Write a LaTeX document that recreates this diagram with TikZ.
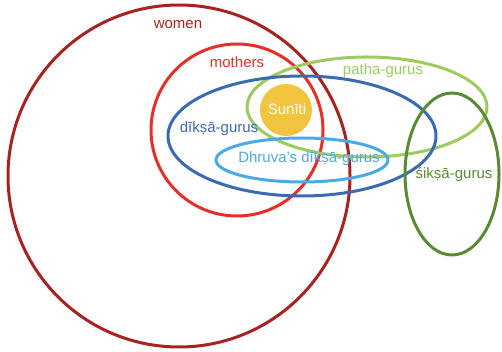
\documentclass[tikz,border=0pt]{standalone}
\usepackage{fontspec}
\setmainfont{Liberation Sans}
\definecolor{womenc}{HTML}{A8231F}
\definecolor{motherc}{HTML}{E5302A}
\definecolor{diksac}{HTML}{3A6BB0}
\definecolor{pathac}{HTML}{9CCB5E}
\definecolor{dhruvac}{HTML}{4AAAE6}
\definecolor{siksac}{HTML}{5B8A34}
\definecolor{sunitic}{HTML}{F2C440}
\begin{document}
\begin{tikzpicture}[x=1pt,y=-1pt,
  ring/.style={line width=3pt},
  lbl/.style={font=\fontsize{15}{17}\selectfont, inner sep=0pt}]
\useasboundingbox (0,0) rectangle (502,352);
% sets
\draw[ring, womenc] (179,176) circle[radius=171];
\draw[ring, motherc] (237,130) circle[radius=86];
\draw[ring, pathac] (367,107) ellipse[x radius=120, y radius=50];
\draw[ring, diksac] (302,136) ellipse[x radius=134, y radius=60];
\draw[ring, dhruvac] (302,160) ellipse[x radius=86, y radius=22];
\draw[ring, siksac] (452,174) ellipse[x radius=47, y radius=81];
\fill[sunitic] (286,110) circle[radius=26];
% labels
\node[lbl, text=womenc] (women) at (178,25) {women};
\node[lbl, text=motherc] (mothers) at (237,62) {mothers};
\node[lbl, text=pathac] (patha) at (383,71) {patha-gurus};
\node[lbl, text=diksac] (diksa) at (219,129) {dīkṣā-gurus};
\node[lbl, text=dhruvac] (dhruva) at (309,159) {Dhruva’s dīkṣā-gurus};
\node[lbl, text=white] (suniti) at (287,109) {Sunīti};
\node[lbl, text=siksac] (siksa) at (454,175) {śikṣā-gurus};
\end{tikzpicture}
\end{document}
